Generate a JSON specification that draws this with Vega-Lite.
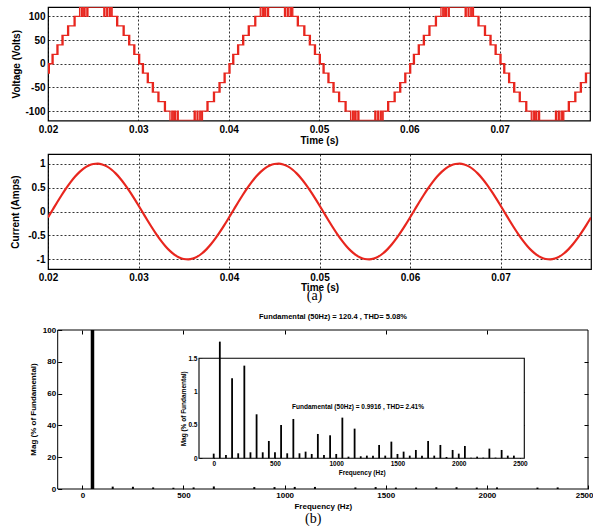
{
"$schema": "https://vega.github.io/schema/vega-lite/v6.json",
"padding": {"left": 9, "top": 6, "right": 0, "bottom": 0},
"background": "white",
"config": {
 "view": {"stroke": null},
 "font": "Liberation Sans",
 "axis": {"labelFont": "Liberation Sans", "labelFontWeight": "bold", "labelColor": "black", "titleFont": "Liberation Sans", "titleFontWeight": "bold", "titleColor": "black", "domain": false, "tickColor": "black"}
},
"datasets": {
"volt": [
{"t":0.02,"v":-20},{"t":0.020035,"v":0},{"t":0.02011,"v":-20},{"t":0.02015,"v":0},
{"t":0.02045,"v":20},{"t":0.02049,"v":0},{"t":0.020565,"v":20},{"t":0.02099,"v":40},{"t":0.02103,"v":20},{"t":0.021104,"v":40},{"t":0.02155,"v":60},{"t":0.02159,"v":40},{"t":0.021668,"v":60},{"t":0.02217,"v":80},{"t":0.02221,"v":60},{"t":0.022282,"v":80},{"t":0.02289,"v":100},{"t":0.02293,"v":80},{"t":0.023,"v":100},{"t":0.0235,"v":120},{"t":0.0237,"v":100},{"t":0.02385,"v":120},{"t":0.024,"v":100},{"t":0.0241,"v":120},{"t":0.0243,"v":100},{"t":0.02442,"v":120},{"t":0.02618,"v":100},{"t":0.0263,"v":120},{"t":0.0265,"v":100},{"t":0.0266,"v":120},{"t":0.0268,"v":100},{"t":0.02695,"v":120},{"t":0.0271,"v":100},{"t":0.0276,"v":80},{"t":0.027675,"v":100},{"t":0.027715,"v":80},{"t":0.028318,"v":60},{"t":0.028393,"v":80},{"t":0.028433,"v":60},{"t":0.028932,"v":40},{"t":0.029007,"v":60},{"t":0.029047,"v":40},{"t":0.029496,"v":20},{"t":0.029571,"v":40},{"t":0.029611,"v":20},{"t":0.030035,"v":0},{"t":0.03011,"v":20},{"t":0.03015,"v":0},
{"t":0.03045,"v":-20},{"t":0.03049,"v":0},{"t":0.030565,"v":-20},{"t":0.03099,"v":-40},{"t":0.03103,"v":-20},{"t":0.031104,"v":-40},{"t":0.03155,"v":-60},{"t":0.03159,"v":-40},{"t":0.031668,"v":-60},{"t":0.03217,"v":-80},{"t":0.03221,"v":-60},{"t":0.032282,"v":-80},{"t":0.03289,"v":-100},{"t":0.03293,"v":-80},{"t":0.033,"v":-100},{"t":0.0335,"v":-120},{"t":0.0337,"v":-100},{"t":0.03385,"v":-120},{"t":0.034,"v":-100},{"t":0.0341,"v":-120},{"t":0.0343,"v":-100},{"t":0.03442,"v":-120},{"t":0.03618,"v":-100},{"t":0.0363,"v":-120},{"t":0.0365,"v":-100},{"t":0.0366,"v":-120},{"t":0.0368,"v":-100},{"t":0.03695,"v":-120},{"t":0.0371,"v":-100},{"t":0.0376,"v":-80},{"t":0.037675,"v":-100},{"t":0.037715,"v":-80},{"t":0.038318,"v":-60},{"t":0.038393,"v":-80},{"t":0.038433,"v":-60},{"t":0.038932,"v":-40},{"t":0.039007,"v":-60},{"t":0.039047,"v":-40},{"t":0.039496,"v":-20},{"t":0.039571,"v":-40},{"t":0.039611,"v":-20},{"t":0.040035,"v":0},{"t":0.04011,"v":-20},{"t":0.04015,"v":0},
{"t":0.04045,"v":20},{"t":0.04049,"v":0},{"t":0.040565,"v":20},{"t":0.04099,"v":40},{"t":0.04103,"v":20},{"t":0.041104,"v":40},{"t":0.04155,"v":60},{"t":0.04159,"v":40},{"t":0.041668,"v":60},{"t":0.04217,"v":80},{"t":0.04221,"v":60},{"t":0.042282,"v":80},{"t":0.04289,"v":100},{"t":0.04293,"v":80},{"t":0.043,"v":100},{"t":0.0435,"v":120},{"t":0.0437,"v":100},{"t":0.04385,"v":120},{"t":0.044,"v":100},{"t":0.0441,"v":120},{"t":0.0443,"v":100},{"t":0.04442,"v":120},{"t":0.04618,"v":100},{"t":0.0463,"v":120},{"t":0.0465,"v":100},{"t":0.0466,"v":120},{"t":0.0468,"v":100},{"t":0.04695,"v":120},{"t":0.0471,"v":100},{"t":0.0476,"v":80},{"t":0.047675,"v":100},{"t":0.047715,"v":80},{"t":0.048318,"v":60},{"t":0.048393,"v":80},{"t":0.048433,"v":60},{"t":0.048932,"v":40},{"t":0.049007,"v":60},{"t":0.049047,"v":40},{"t":0.049496,"v":20},{"t":0.049571,"v":40},{"t":0.049611,"v":20},{"t":0.050035,"v":0},{"t":0.05011,"v":20},{"t":0.05015,"v":0},
{"t":0.05045,"v":-20},{"t":0.05049,"v":0},{"t":0.050565,"v":-20},{"t":0.05099,"v":-40},{"t":0.05103,"v":-20},{"t":0.051104,"v":-40},{"t":0.05155,"v":-60},{"t":0.05159,"v":-40},{"t":0.051668,"v":-60},{"t":0.05217,"v":-80},{"t":0.05221,"v":-60},{"t":0.052282,"v":-80},{"t":0.05289,"v":-100},{"t":0.05293,"v":-80},{"t":0.053,"v":-100},{"t":0.0535,"v":-120},{"t":0.0537,"v":-100},{"t":0.05385,"v":-120},{"t":0.054,"v":-100},{"t":0.0541,"v":-120},{"t":0.0543,"v":-100},{"t":0.05442,"v":-120},{"t":0.05618,"v":-100},{"t":0.0563,"v":-120},{"t":0.0565,"v":-100},{"t":0.0566,"v":-120},{"t":0.0568,"v":-100},{"t":0.05695,"v":-120},{"t":0.0571,"v":-100},{"t":0.0576,"v":-80},{"t":0.057675,"v":-100},{"t":0.057715,"v":-80},{"t":0.058318,"v":-60},{"t":0.058393,"v":-80},{"t":0.058433,"v":-60},{"t":0.058932,"v":-40},{"t":0.059007,"v":-60},{"t":0.059047,"v":-40},{"t":0.059496,"v":-20},{"t":0.059571,"v":-40},{"t":0.059611,"v":-20},{"t":0.060035,"v":0},{"t":0.06011,"v":-20},{"t":0.06015,"v":0},
{"t":0.06045,"v":20},{"t":0.06049,"v":0},{"t":0.060565,"v":20},{"t":0.06099,"v":40},{"t":0.06103,"v":20},{"t":0.061104,"v":40},{"t":0.06155,"v":60},{"t":0.06159,"v":40},{"t":0.061668,"v":60},{"t":0.06217,"v":80},{"t":0.06221,"v":60},{"t":0.062282,"v":80},{"t":0.06289,"v":100},{"t":0.06293,"v":80},{"t":0.063,"v":100},{"t":0.0635,"v":120},{"t":0.0637,"v":100},{"t":0.06385,"v":120},{"t":0.064,"v":100},{"t":0.0641,"v":120},{"t":0.0643,"v":100},{"t":0.06442,"v":120},{"t":0.06618,"v":100},{"t":0.0663,"v":120},{"t":0.0665,"v":100},{"t":0.0666,"v":120},{"t":0.0668,"v":100},{"t":0.06695,"v":120},{"t":0.0671,"v":100},{"t":0.0676,"v":80},{"t":0.067675,"v":100},{"t":0.067715,"v":80},{"t":0.068318,"v":60},{"t":0.068393,"v":80},{"t":0.068433,"v":60},{"t":0.068932,"v":40},{"t":0.069007,"v":60},{"t":0.069047,"v":40},{"t":0.069496,"v":20},{"t":0.069571,"v":40},{"t":0.069611,"v":20},{"t":0.070035,"v":0},{"t":0.07011,"v":20},{"t":0.07015,"v":0},
{"t":0.07045,"v":-20},{"t":0.07049,"v":0},{"t":0.070565,"v":-20},{"t":0.07099,"v":-40},{"t":0.07103,"v":-20},{"t":0.071104,"v":-40},{"t":0.07155,"v":-60},{"t":0.07159,"v":-40},{"t":0.071668,"v":-60},{"t":0.07217,"v":-80},{"t":0.07221,"v":-60},{"t":0.072282,"v":-80},{"t":0.07289,"v":-100},{"t":0.07293,"v":-80},{"t":0.073,"v":-100},{"t":0.0735,"v":-120},{"t":0.0737,"v":-100},{"t":0.07385,"v":-120},{"t":0.074,"v":-100},{"t":0.0741,"v":-120},{"t":0.0743,"v":-100},{"t":0.07442,"v":-120},{"t":0.07618,"v":-100},{"t":0.0763,"v":-120},{"t":0.0765,"v":-100},{"t":0.0766,"v":-120},{"t":0.0768,"v":-100},{"t":0.07695,"v":-120},{"t":0.0771,"v":-100},{"t":0.0776,"v":-80},{"t":0.077675,"v":-100},{"t":0.077715,"v":-80},{"t":0.078318,"v":-60},{"t":0.078393,"v":-80},{"t":0.078433,"v":-60},{"t":0.078932,"v":-40},{"t":0.079007,"v":-60},{"t":0.079047,"v":-40},{"t":0.079496,"v":-20},{"t":0.079571,"v":-40},{"t":0.079611,"v":-20},{"t":0.08,"v":-20}
],
"curr": [
{"t":0.02,"i":-0.1253},{"t":0.0205,"i":0.0314},{"t":0.021,"i":0.1874},{"t":0.0215,"i":0.3387},{"t":0.022,"i":0.4818},{"t":0.0225,"i":0.6129},{"t":0.023,"i":0.729},{"t":0.0235,"i":0.8271},{"t":0.024,"i":0.9048},{"t":0.0245,"i":0.9603},{"t":0.025,"i":0.9921},{"t":0.0255,"i":0.9995},{"t":0.026,"i":0.9823},{"t":0.0265,"i":0.9409},{"t":0.027,"i":0.8763},{"t":0.0275,"i":0.7902},{"t":0.028,"i":0.6845},{"t":0.0285,"i":0.5621},{"t":0.029,"i":0.4258},{"t":0.0295,"i":0.279},
{"t":0.03,"i":0.1253},{"t":0.0305,"i":-0.0314},{"t":0.031,"i":-0.1874},{"t":0.0315,"i":-0.3387},{"t":0.032,"i":-0.4818},{"t":0.0325,"i":-0.6129},{"t":0.033,"i":-0.729},{"t":0.0335,"i":-0.8271},{"t":0.034,"i":-0.9048},{"t":0.0345,"i":-0.9603},{"t":0.035,"i":-0.9921},{"t":0.0355,"i":-0.9995},{"t":0.036,"i":-0.9823},{"t":0.0365,"i":-0.9409},{"t":0.037,"i":-0.8763},{"t":0.0375,"i":-0.7902},{"t":0.038,"i":-0.6845},{"t":0.0385,"i":-0.5621},{"t":0.039,"i":-0.4258},{"t":0.0395,"i":-0.279},
{"t":0.04,"i":-0.1253},{"t":0.0405,"i":0.0314},{"t":0.041,"i":0.1874},{"t":0.0415,"i":0.3387},{"t":0.042,"i":0.4818},{"t":0.0425,"i":0.6129},{"t":0.043,"i":0.729},{"t":0.0435,"i":0.8271},{"t":0.044,"i":0.9048},{"t":0.0445,"i":0.9603},{"t":0.045,"i":0.9921},{"t":0.0455,"i":0.9995},{"t":0.046,"i":0.9823},{"t":0.0465,"i":0.9409},{"t":0.047,"i":0.8763},{"t":0.0475,"i":0.7902},{"t":0.048,"i":0.6845},{"t":0.0485,"i":0.5621},{"t":0.049,"i":0.4258},{"t":0.0495,"i":0.279},
{"t":0.05,"i":0.1253},{"t":0.0505,"i":-0.0314},{"t":0.051,"i":-0.1874},{"t":0.0515,"i":-0.3387},{"t":0.052,"i":-0.4818},{"t":0.0525,"i":-0.6129},{"t":0.053,"i":-0.729},{"t":0.0535,"i":-0.8271},{"t":0.054,"i":-0.9048},{"t":0.0545,"i":-0.9603},{"t":0.055,"i":-0.9921},{"t":0.0555,"i":-0.9995},{"t":0.056,"i":-0.9823},{"t":0.0565,"i":-0.9409},{"t":0.057,"i":-0.8763},{"t":0.0575,"i":-0.7902},{"t":0.058,"i":-0.6845},{"t":0.0585,"i":-0.5621},{"t":0.059,"i":-0.4258},{"t":0.0595,"i":-0.279},
{"t":0.06,"i":-0.1253},{"t":0.0605,"i":0.0314},{"t":0.061,"i":0.1874},{"t":0.0615,"i":0.3387},{"t":0.062,"i":0.4818},{"t":0.0625,"i":0.6129},{"t":0.063,"i":0.729},{"t":0.0635,"i":0.8271},{"t":0.064,"i":0.9048},{"t":0.0645,"i":0.9603},{"t":0.065,"i":0.9921},{"t":0.0655,"i":0.9995},{"t":0.066,"i":0.9823},{"t":0.0665,"i":0.9409},{"t":0.067,"i":0.8763},{"t":0.0675,"i":0.7902},{"t":0.068,"i":0.6845},{"t":0.0685,"i":0.5621},{"t":0.069,"i":0.4258},{"t":0.0695,"i":0.279},
{"t":0.07,"i":0.1253},{"t":0.0705,"i":-0.0314},{"t":0.071,"i":-0.1874},{"t":0.0715,"i":-0.3387},{"t":0.072,"i":-0.4818},{"t":0.0725,"i":-0.6129},{"t":0.073,"i":-0.729},{"t":0.0735,"i":-0.8271},{"t":0.074,"i":-0.9048},{"t":0.0745,"i":-0.9603},{"t":0.075,"i":-0.9921},{"t":0.0755,"i":-0.9995},{"t":0.076,"i":-0.9823},{"t":0.0765,"i":-0.9409},{"t":0.077,"i":-0.8763},{"t":0.0775,"i":-0.7902},{"t":0.078,"i":-0.6845},{"t":0.0785,"i":-0.5621},{"t":0.079,"i":-0.4258},{"t":0.0795,"i":-0.279},{"t":0.08,"i":-0.1253}
],
"main": [
{"f":50,"m":100},{"f":150,"m":1.5},{"f":250,"m":1.4},{"f":350,"m":1.0},{"f":450,"m":0.8},{"f":550,"m":1.0},{"f":650,"m":1.6},{"f":850,"m":1.2},{"f":950,"m":1.2},{"f":1050,"m":1.3},{"f":1150,"m":1.3},{"f":1350,"m":1.0},{"f":1450,"m":1.2},{"f":1550,"m":0.9},{"f":1650,"m":0.9},{"f":1750,"m":1.1},{"f":1850,"m":1.1},{"f":1950,"m":0.9},{"f":2050,"m":1.0},{"f":2250,"m":0.9},{"f":2350,"m":1.0}
],
"inset": [
{"f":0,"m":0.07},{"f":50,"m":1.75},{"f":100,"m":0.05},{"f":150,"m":1.2},{"f":200,"m":0.075},{"f":250,"m":1.39},{"f":300,"m":0.09},{"f":350,"m":0.66},{"f":400,"m":0.09},{"f":450,"m":0.26},{"f":500,"m":0.09},{"f":550,"m":0.5},{"f":600,"m":0.075},{"f":650,"m":0.59},{"f":700,"m":0.075},{"f":750,"m":0.1},{"f":800,"m":0.065},{"f":850,"m":0.365},{"f":900,"m":0.05},{"f":950,"m":0.345},{"f":1000,"m":0.065},{"f":1050,"m":0.61},{"f":1100,"m":0.025},{"f":1150,"m":0.445},{"f":1200,"m":0.03},{"f":1250,"m":0.04},{"f":1300,"m":0.04},{"f":1350,"m":0.2},{"f":1400,"m":0.04},{"f":1450,"m":0.25},{"f":1500,"m":0.065},{"f":1550,"m":0.1},{"f":1600,"m":0.04},{"f":1650,"m":0.125},{"f":1700,"m":0.04},{"f":1750,"m":0.26},{"f":1800,"m":0.04},{"f":1850,"m":0.2},{"f":1900,"m":0.02},{"f":1950,"m":0.125},{"f":2000,"m":0.07},{"f":2050,"m":0.185},{"f":2100,"m":0.01},{"f":2150,"m":0.025},{"f":2200,"m":0.01},{"f":2250,"m":0.145},{"f":2300,"m":0.01},{"f":2350,"m":0.125},{"f":2400,"m":0.04},{"f":2450,"m":0.04}
]
},
"title": {"text": "(b)", "orient": "bottom", "anchor": "middle", "font": "Liberation Serif", "fontSize": 14, "fontWeight": "normal", "color": "black", "offset": 2, "dx": 12},
"spacing": 6,
"vconcat": [
 {
  "width": 542, "height": 113.5,
  "view": {"stroke": "black", "strokeWidth": 1.2},
  "data": {"name": "volt"},
  "mark": {"type": "line", "interpolate": "step-after", "color": "#e8261e", "strokeWidth": 1.3, "clip": true},
  "encoding": {
   "x": {"field": "t", "type": "quantitative", "scale": {"domain": [0.02, 0.08], "nice": false, "zero": false},
    "axis": {"values": [0.02,0.03,0.04,0.05,0.06,0.07], "labelExpr": "'' + datum.value", "labelFlush": false, "grid": true, "gridColor": "black", "gridDash": [2,2], "gridOpacity": 1, "gridWidth": 0.8, "ticks": false, "labelPadding": 4, "labelFontSize": 10, "title": "Time (s)", "titleFontSize": 10, "titleY": 15, "titleBaseline": "top"}},
   "y": {"field": "v", "type": "quantitative", "scale": {"domain": [-120, 120], "nice": false},
    "axis": {"values": [-100,-50,0,50,100], "labelExpr": "'' + datum.value", "grid": true, "gridColor": "black", "gridDash": [2,2], "gridOpacity": 1, "gridWidth": 0.8, "ticks": false, "labelPadding": 3, "labelFontSize": 10, "title": "Voltage (Volts)", "titleFontSize": 10, "titleX": -27, "titleBaseline": "bottom"}}
  }
 },
 {
  "width": 543, "height": 115,
  "view": {"stroke": "black", "strokeWidth": 1.2},
  "title": {"text": "(a)", "orient": "bottom", "anchor": "middle", "font": "Liberation Serif", "fontSize": 14, "fontWeight": "normal", "color": "black", "offset": -3, "dx": -5},
  "data": {"name": "curr"},
  "mark": {"type": "line", "interpolate": "monotone", "color": "#e8261e", "strokeWidth": 2.2, "clip": true},
  "encoding": {
   "x": {"field": "t", "type": "quantitative", "scale": {"domain": [0.02, 0.08], "nice": false, "zero": false},
    "axis": {"values": [0.02,0.03,0.04,0.05,0.06,0.07], "labelExpr": "'' + datum.value", "labelFlush": false, "grid": true, "gridColor": "black", "gridDash": [2,2], "gridOpacity": 1, "gridWidth": 0.8, "ticks": false, "labelPadding": 3, "labelFontSize": 10, "title": "Time (s)", "titleFontSize": 10, "titleY": 13, "titleBaseline": "top"}},
   "y": {"field": "i", "type": "quantitative", "scale": {"domain": [-1.2, 1.2], "nice": false},
    "axis": {"values": [-1,-0.5,0,0.5,1], "labelExpr": "'' + datum.value", "grid": true, "gridColor": "black", "gridDash": [2,2], "gridOpacity": 1, "gridWidth": 0.8, "ticks": false, "labelPadding": 3, "labelFontSize": 10, "title": "Current (Amps)", "titleFontSize": 10, "titleX": -28, "titleBaseline": "bottom"}}
  }
 },
 {
  "width": 540, "height": 159,
  "title": {"text": ["", "Fundamental (50Hz) = 120.4 , THD= 5.08%"], "lineHeight": 2.5, "fontSize": 7.5, "fontWeight": "bold", "font": "Liberation Sans", "color": "black", "offset": 6, "dx": 15, "anchor": "middle"},
  "layer": [
   {
    "data": {"name": "main"},
    "resolve": {"axis": {"x": "independent", "y": "independent"}},
    "layer": [
     {
      "data": {"values": [{"a": 1}]},
      "mark": {"type": "rect", "filled": false, "color": "black", "strokeWidth": 1},
      "encoding": {
       "x": {"datum": -122, "type": "quantitative", "scale": {"domain": [-122, 2500], "range": [9.7, 540], "nice": false, "zero": false},
        "axis": {"orient": "bottom", "values": [0,500,1000,1500,2000,2500], "labelExpr": "'' + datum.value", "tickSize": -4, "labelPadding": 6, "labelFontSize": 8, "labelFlush": true, "labelFlushOffset": 5, "grid": false, "title": "Frequency (Hz)", "titleFontSize": 8, "titleY": 13, "titleBaseline": "top"}},
       "x2": {"datum": 2500},
       "y": {"datum": 0, "type": "quantitative", "scale": {"domain": [0, 100], "nice": false},
        "axis": {"orient": "left", "offset": -9.7, "values": [0,20,40,60,80,100], "tickSize": -4, "labelPadding": 6, "labelFontSize": 8, "grid": false, "title": null}},
       "y2": {"datum": 100}
      }
     },
     {
      "transform": [{"filter": "datum.f == 50"}],
      "mark": {"type": "rule", "strokeWidth": 3.5, "color": "black"},
      "encoding": {
       "x": {"field": "f", "type": "quantitative", "axis": {"orient": "top", "values": [0,500,1000,1500,2000], "labels": false, "tickSize": -4, "grid": false, "title": null}},
       "y": {"field": "m", "type": "quantitative", "axis": {"orient": "right", "values": [20,40,60,80], "labels": false, "tickSize": -4, "grid": false, "title": null}},
       "y2": {"datum": 0}
      }
     },
     {
      "transform": [{"filter": "datum.f != 50"}],
      "mark": {"type": "rule", "strokeWidth": 2, "color": "black"},
      "encoding": {
       "x": {"field": "f", "type": "quantitative", "axis": null},
       "y": {"field": "m", "type": "quantitative", "axis": null},
       "y2": {"datum": 0}
      }
     },
     {
      "data": {"values": [{"a": 1}]},
      "mark": {"type": "text", "angle": 270, "align": "center", "baseline": "bottom", "font": "Liberation Sans", "fontWeight": "bold", "fontSize": 8, "color": "black"},
      "encoding": {
       "x": {"datum": -219, "type": "quantitative", "axis": null},
       "y": {"datum": 50, "type": "quantitative", "axis": null},
       "text": {"value": "Mag (% of Fundamental)"}
      }
     }
    ]
   },
   {
    "resolve": {"axis": {"x": "independent", "y": "independent"}},
    "layer": [
     {
      "data": {"values": [{"a": 1}]},
      "mark": {"type": "rect", "fill": "white", "stroke": "black", "strokeWidth": 1.1},
      "encoding": {
       "x": {"datum": -120, "type": "quantitative", "scale": {"domain": [-120, 2535], "range": [151, 476.3], "nice": false, "zero": false},
        "axis": {"orient": "bottom", "offset": -30.7, "values": [0,500,1000,1500,2000,2500], "labelExpr": "'' + datum.value", "tickSize": -3, "labelPadding": 5, "labelFontSize": 6.5, "labelFlush": false, "grid": false, "title": "Frequency (Hz)", "titleFontSize": 6.5, "titleY": 11, "titleBaseline": "top"}},
       "x2": {"datum": 2535},
       "y": {"datum": 0, "type": "quantitative", "scale": {"domain": [0, 1.5], "range": [128.3, 28.3], "nice": false},
        "axis": {"orient": "left", "offset": -151, "values": [0,0.5,1,1.5], "labelExpr": "'' + datum.value", "tickSize": -3, "labelPadding": 5, "labelFontSize": 6.5, "grid": false, "title": "Mag (% of Fundamental)", "titleFontSize": 6.5, "titleX": -13, "titleBaseline": "bottom"}},
       "y2": {"datum": 1.5}
      }
     },
     {
      "data": {"name": "inset"},
      "mark": {"type": "rule", "strokeWidth": 1.8, "color": "black"},
      "encoding": {
       "x": {"field": "f", "type": "quantitative", "axis": {"orient": "top", "offset": -28.3, "values": [0,500,1000,1500,2000], "labels": false, "tickSize": -3, "grid": false, "title": null}},
       "y": {"field": "m", "type": "quantitative", "axis": {"orient": "right", "offset": -63.7, "values": [0.5,1], "labels": false, "tickSize": -3, "grid": false, "title": null}},
       "y2": {"datum": 0}
      }
     },
     {
      "data": {"values": [{"a": 1}]},
      "mark": {"type": "text", "align": "left", "baseline": "middle", "font": "Liberation Sans", "fontWeight": "bold", "fontSize": 6.5, "color": "black"},
      "encoding": {
       "x": {"datum": 640, "type": "quantitative", "axis": null},
       "y": {"datum": 0.77, "type": "quantitative", "axis": null},
       "text": {"value": "Fundamental (50Hz) = 0.9916 , THD= 2.41%"}
      }
     }
    ]
   }
  ],
  "resolve": {"scale": {"x": "independent", "y": "independent"}}
 }
]
}
